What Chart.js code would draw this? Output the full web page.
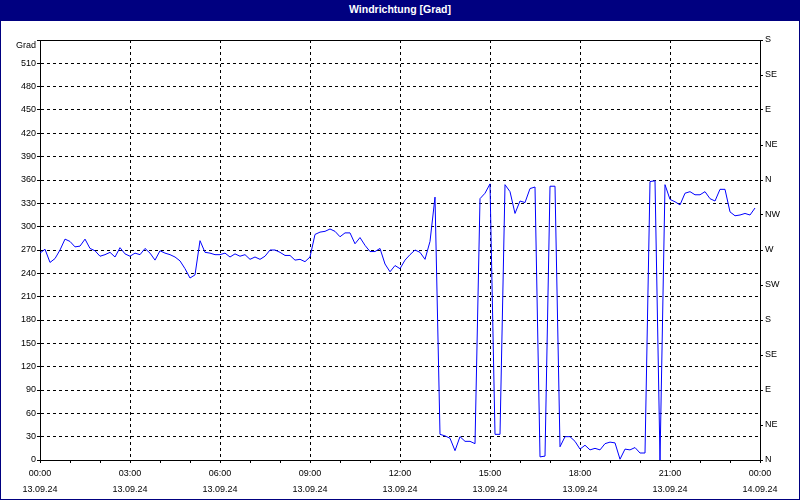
<!DOCTYPE html>
<html>
<head>
<meta charset="utf-8">
<title>Windrichtung [Grad]</title>
<script src="https://cdn.jsdelivr.net/npm/chart.js@4.4.1/dist/chart.umd.min.js"></script>
<style>
  html, body { margin: 0; padding: 0; background: #fff; }
  #frame  { position: relative; width: 800px; height: 500px; background: #000080; }
  #title  { height: 21px; color: #fff; text-align: center;
            font: bold 10.5px "Liberation Sans", Arial, sans-serif; line-height: 19px; }
  #chart  { position: absolute; left: 1px; top: 21px; background: #fff; }
</style>
</head>
<body>
<div id="frame">
  <div id="title">Windrichtung [Grad]</div>
  <canvas id="chart" width="798" height="478"></canvas>
</div>
<script>
/* ── Data: wind direction in degrees, one value every 10 minutes from 13.09.24 00:00 ── */
const STEP_MIN = 10;
const windDir = [
  266, 271, 254, 259, 270, 284, 281, 274, 275, 284, 272, 269,   // 00:00
  262, 264, 267, 261, 273, 265, 262, 266, 264, 272, 266, 257,   // 02:00
  269, 266, 264, 261, 256, 246, 234, 238, 282, 267, 266, 264,   // 04:00
  264, 266, 261, 265, 262, 264, 258, 261, 258, 262, 270, 270,   // 06:00
  267, 263, 263, 257, 258, 255, 261, 290, 293, 294, 297, 294,   // 08:00
  287, 292, 292, 278, 286, 276, 268, 268, 272, 252, 242, 250,   // 10:00
  246, 257, 264, 270, 267, 258, 281, 338,  33,  31,  28,  12,   // 12:00
   30,  24,  24,  21, 336, 343, 355,  33,  33, 354, 345, 317,   // 14:00
  333, 331, 349, 351,   4,   5, 352, 352,  17,  30,  30,  24,   // 16:00
   14,  19,  13,  15,  13,  21,  23,  22,   1,  14,  13,  16,   // 18:00
    9,   9, 358, 359,   0, 354, 335, 332, 328, 343, 345, 341,   // 20:00
  341, 345, 336, 333, 348, 348, 319, 314, 315, 317, 315, 324    // 22:00
];

/* ── Tick labels ─────────────────────────────────────────────── */
const leftTicks  = ['0', '30', '60', '90', '120', '150', '180', '210', '240', '270',
                    '300', '330', '360', '390', '420', '450', '480', '510', 'Grad'];
const rightTicks = ['N', 'NE', 'E', 'SE', 'S', 'SW', 'W', 'NW', 'N', 'NE', 'E', 'SE', 'S'];
const timeLabels = ['00:00', '03:00', '06:00', '09:00', '12:00', '15:00', '18:00', '21:00', '00:00'];
const dateLabels = ['13.09.24', '13.09.24', '13.09.24', '13.09.24', '13.09.24',
                    '13.09.24', '13.09.24', '13.09.24', '14.09.24'];

const FONT = { family: '"Liberation Sans", Arial, sans-serif', size: 9 };
const DASH = [3, 3];

new Chart(document.getElementById('chart'), {
    type: 'line',
    data: {
        datasets: [{
            data: windDir.map((v, i) => ({ x: i * STEP_MIN, y: v })),
            borderColor: '#0000ff',
            borderWidth: 1,
            pointRadius: 0,
            tension: 0,
            fill: false
        }]
    },
    options: {
        responsive: false,
        animation: false,
        devicePixelRatio: 1,
        layout: { padding: { top: 19, left: 0, right: 0, bottom: 0 } },
        plugins: { legend: { display: false }, tooltip: { enabled: false } },
        scales: {
            x: {
                type: 'linear', position: 'bottom', min: 0, max: 1440,
                ticks: {
                    stepSize: 60, autoSkip: false, maxRotation: 0, padding: 3,
                    color: '#000', font: { ...FONT, lineHeight: 1.75 },
                    // hourly tick marks, labels every 3 hours
                    callback: v => v % 180 === 0 ? [timeLabels[v / 180], dateLabels[v / 180]] : ''
                },
                grid: {
                    color: c => (c.tick && c.tick.value % 180 === 0) ? '#000' : 'rgba(0,0,0,0)',
                    tickColor: '#000', tickLength: 3, lineWidth: 1
                },
                border: { color: '#000', dash: DASH },
                afterFit: s => { s.height = 39; }
            },
            xTop: {
                type: 'linear', position: 'top', min: 0, max: 1440,
                ticks: { display: false },
                grid: { display: false },
                border: { color: '#000' },
                afterFit: s => { s.height = 0; }
            },
            y: {
                position: 'left', min: 0, max: 540,
                ticks: {
                    stepSize: 30, padding: 1, autoSkip: false, color: '#000', font: FONT,
                    // top label "Grad" sits just under the frame line
                    callback: v => v === 540 ? ['', leftTicks[v / 30]] : leftTicks[v / 30]
                },
                grid: { color: '#000', tickColor: '#000', tickLength: 3, lineWidth: 1 },
                border: { color: '#000', dash: DASH },
                afterFit: s => { s.width = 39; }
            },
            yRight: {
                position: 'right', min: 0, max: 540,
                ticks: {
                    stepSize: 45, padding: 2, autoSkip: false, color: '#000', font: FONT,
                    callback: v => rightTicks[v / 45]
                },
                grid: { drawOnChartArea: false, color: '#000', tickLength: 3 },
                border: { color: '#000' },
                afterFit: s => { s.width = 39; }
            }
        }
    }
});
</script>
</body>
</html>
